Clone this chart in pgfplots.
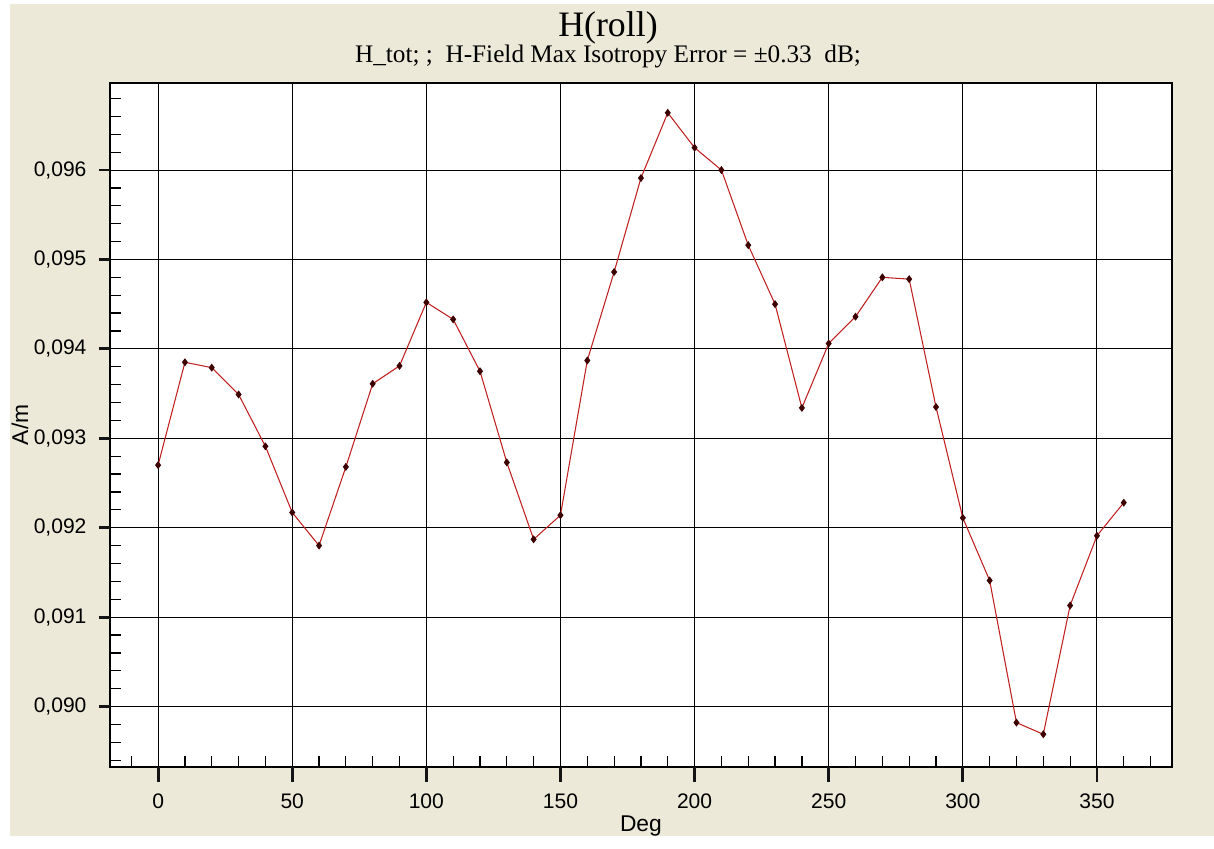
\documentclass[border=0pt]{standalone}
\usepackage{fontspec}
\setmainfont{Liberation Sans}
\newfontfamily\seriffont{Liberation Serif}
\usepackage{pgfplots}
\pgfplotsset{compat=1.18}
\definecolor{panel}{RGB}{236,233,216}
\definecolor{curve}{RGB}{192,32,32}
\definecolor{dot}{RGB}{60,0,0}
\definecolor{tickcol}{RGB}{20,20,20}

\begin{document}
\begin{tikzpicture}[x=1cm,y=1cm]
\fill[white] (0,0) rectangle (12.14,8.39);
\fill[panel] (0.08,0.02) rectangle (12.14,8.35);
\node[anchor=base, font=\seriffont\fontsize{10.2}{12}\selectfont] at (6.07,8.02) {H(roll)};
\node[anchor=base, font=\seriffont\fontsize{7.2}{8}\selectfont] at (6.07,7.76)
  {H\_tot; ;\ \ H-Field Max Isotropy Error = ±0.33\ \ dB;};
\begin{axis}[
    at={(1.08cm,0.71cm)}, anchor=south west,
    scale only axis,
    width=10.64cm, height=6.85cm,
    axis background/.style={fill=white},
    xmin=-18, xmax=378,
    ymin=0.089327, ymax=0.096975,
    % small unlabelled ticks, pointing inwards
    xtick={-10,10,20,30,40,60,70,80,90,110,120,130,140,160,170,180,190,
           210,220,230,240,260,270,280,290,310,320,330,340,360,370},
    xticklabels={},
    ytick={0.0894,0.0896,0.0898,0.0902,0.0904,0.0906,0.0908,
           0.0912,0.0914,0.0916,0.0918,0.0922,0.0924,0.0926,0.0928,
           0.0932,0.0934,0.0936,0.0938,0.0942,0.0944,0.0946,0.0948,
           0.0952,0.0954,0.0956,0.0958,0.0962,0.0964,0.0966,0.0968},
    yticklabels={},
    xtick pos=bottom, ytick pos=left,
    tick align=inside,
    major tick length=1.1mm,
    % labelled ticks, pointing outwards, with grid lines
    extra x ticks={0,50,100,150,200,250,300,350},
    extra y ticks={0.090,0.091,0.092,0.093,0.094,0.095,0.096},
    extra x tick style={tick align=outside, major tick length=1.5mm, grid=major,
                        major tick style={tickcol, thick}},
    extra y tick style={tick align=outside, major tick length=1.1mm, grid=major,
                        major tick style={tickcol, thick}},
    tick style={black, line width=0.35pt},
    axis line style={black, line width=0.45pt},
    major grid style={black, line width=0.3pt},
    y tick label style={/pgf/number format/.cd, fixed, fixed zerofill, precision=3, use comma},
    /pgf/number format/assume math mode=true,
    scaled y ticks=false,
    ticklabel style={font=\fontsize{6}{7}\selectfont},
    label style={font=\fontsize{6.5}{7}\selectfont},
    xlabel={Deg},
    ylabel={A/m},
    xlabel style={at={(axis description cs:0.5,-0.0949)}, anchor=base},
    ylabel style={at={(axis description cs:-0.0845,0.5)}, anchor=center},
]
\addplot[color=curve, line width=0.3pt, mark=diamond*, mark size=0.9pt,
         mark options={fill=dot, draw=dot}] coordinates {
    (0,0.09270) (10,0.09385) (20,0.09379) (30,0.09349) (40,0.09291)
    (50,0.09217) (60,0.09180) (70,0.09268) (80,0.09361) (90,0.09381)
    (100,0.09452) (110,0.09433) (120,0.09375) (130,0.09273) (140,0.09187)
    (150,0.09214) (160,0.09387) (170,0.09486) (180,0.09591) (190,0.09664)
    (200,0.09625) (210,0.09600) (220,0.09516) (230,0.09450) (240,0.09334)
    (250,0.09406) (260,0.09436) (270,0.09480) (280,0.09478) (290,0.09335)
    (300,0.09211) (310,0.09141) (320,0.08982) (330,0.08969) (340,0.09113)
    (350,0.09191) (360,0.09228)
};
\end{axis}
\end{tikzpicture}
\end{document}
